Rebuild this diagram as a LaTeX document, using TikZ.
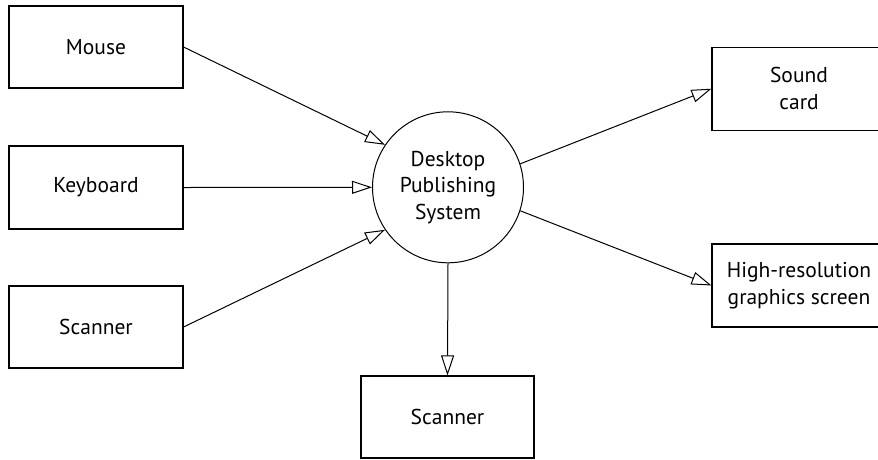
\documentclass[tikz,border=0pt]{standalone}
\usepackage{fontspec}
\setmainfont{PT Sans}
\usetikzlibrary{arrows.meta}
\begin{document}
\begin{tikzpicture}[x=1pt,y=-1pt,
  every node/.style={font=\fontsize{21.5}{26.5}\selectfont, align=center, inner sep=0pt},
  box/.style={draw, line width=1.1pt, minimum width=174pt, minimum height=82pt},
  proc/.style={draw, circle, line width=1pt, minimum size=151pt},
  flow/.style={line width=1pt, -{Triangle[open, length=20pt, width=13pt, line width=1pt]}}]
\useasboundingbox (0,0) rectangle (878,459);
\node[box] (mouse) at (96,47) {Mouse};
\node[box, minimum height=83pt] (kbd) at (96,187.5) {Keyboard};
\node[box] (scanin) at (96,327) {Scanner};
\node[proc] (dps) at (448,187.3) {Desktop\\Publishing\\System};
\node[box, minimum height=83pt] (sound) at (799,88.7) {Sound\\card};
\node[box, minimum height=83pt] (hires) at (799,285.5) {High-resolution\\graphics screen};
\node[box, minimum width=173pt] (scanout) at (447.5,417) {Scanner};
\draw[flow] (mouse.east) -- (dps.146);
\draw[flow] (kbd.east) -- (dps.west);
\draw[flow] (scanin.east) -- (dps.214);
\draw[flow] (dps.18) -- (sound.west);
\draw[flow] (dps.-18) -- (hires.west);
\draw[flow] (dps.south) -- (scanout.north);
\end{tikzpicture}
\end{document}
